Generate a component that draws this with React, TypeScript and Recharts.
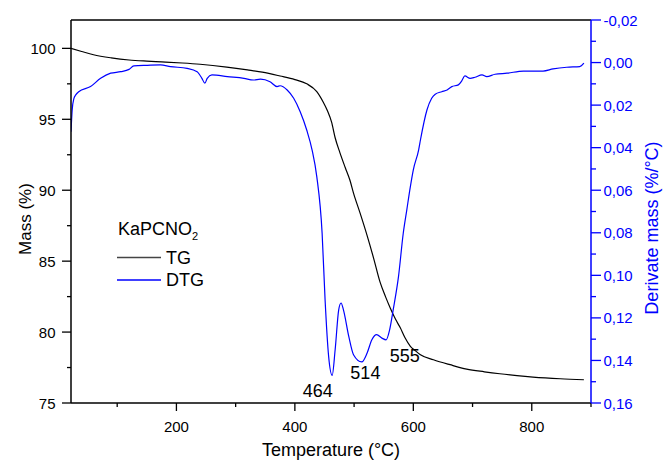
import { ComposedChart, Line, XAxis, YAxis, ReferenceLine, ReferenceDot } from "recharts"

// TG curve (mass %)
const tgTemp = [22, 40, 60, 90, 120, 150, 175, 210, 240, 285, 320, 345, 375, 400, 420, 437, 448, 455, 462, 468, 476, 485, 493, 499, 510, 522, 533, 544, 553, 561, 570, 578, 586, 595, 603, 612, 634, 662, 690, 720, 746, 775, 802, 848, 888]
const tgMass = [100.0, 99.78, 99.55, 99.33, 99.18, 99.1, 99.05, 98.97, 98.88, 98.68, 98.48, 98.32, 98.05, 97.8, 97.5, 96.95, 96.2, 95.6, 94.8, 93.7, 92.65, 91.6, 90.7, 89.8, 88.4, 86.8, 85.2, 83.5, 82.5, 81.7, 80.9, 80.3, 79.6, 79.0, 78.7, 78.4, 78.05, 77.7, 77.39, 77.2, 77.06, 76.93, 76.83, 76.71, 76.64]

// DTG curve (%/°C)
const dtgTemp = [22, 24, 27, 30, 35, 55, 72, 89, 106, 120, 128, 151, 173, 190, 218, 235, 243, 248, 252, 260, 286, 314, 330, 342, 358, 370, 375, 387, 398, 409, 420, 429, 437, 446, 451, 457, 463, 468, 474, 478, 482, 491, 499, 513, 522, 530, 538, 547, 554, 560, 566, 575, 583, 589, 595, 600, 609, 612, 623, 631, 637, 648, 657, 665, 676, 682, 687, 696, 704, 716, 724, 738, 758, 786, 819, 836, 859, 881, 888]
const dtgRate = [0.0325, 0.0223, 0.0168, 0.0152, 0.0137, 0.0113, 0.0074, 0.005, 0.0043, 0.0032, 0.0016, 0.0013, 0.0011, 0.0019, 0.0027, 0.0043, 0.0074, 0.0097, 0.0074, 0.0058, 0.0066, 0.0074, 0.0082, 0.0078, 0.009, 0.0113, 0.0109, 0.0129, 0.0168, 0.0231, 0.0317, 0.041, 0.0536, 0.0802, 0.1115, 0.1381, 0.147, 0.135, 0.1162, 0.113, 0.1162, 0.1287, 0.1373, 0.1407, 0.1365, 0.1303, 0.1279, 0.1295, 0.1303, 0.1256, 0.1162, 0.1005, 0.0802, 0.0692, 0.0583, 0.0504, 0.041, 0.0364, 0.0223, 0.0168, 0.0149, 0.0137, 0.0129, 0.0113, 0.0105, 0.0085, 0.0063, 0.0074, 0.0069, 0.0058, 0.0066, 0.0055, 0.005, 0.004, 0.004, 0.003, 0.0022, 0.0019, 0.0003]

const peakTemps = [464, 514, 555]
const peakRates = [0.147, 0.1407, 0.1303]

const tempTicks = [100, 200, 300, 400, 500, 600, 700, 800, 900]
const massTicks = [75, 77.5, 80, 82.5, 85, 87.5, 90, 92.5, 95, 97.5, 100]
const rateTicks = [-0.02, -0.01, 0, 0.01, 0.02, 0.03, 0.04, 0.05, 0.06, 0.07, 0.08, 0.09, 0.1, 0.11, 0.12, 0.13, 0.14, 0.15, 0.16]

const tgData = tgTemp.map((t, i) => ({ t, mass: tgMass[i] }))
const dtgData = dtgTemp.map((t, i) => ({ t, rate: dtgRate[i] }))

const FONT = "'Liberation Sans', Arial, sans-serif"
const BLUE = "#0000ff"
// label offsets for the peak annotations (px)
const peakLabelShift = [[-15, 16], [3, 11], [18, 16]]

const XTick = ({ x, y, payload }: any) => {
  const major = payload.value % 200 === 0
  return (
    <g>
      <line x1={x} x2={x} y1={y} y2={y + (major ? 8 : 4)} stroke="#000" strokeWidth={1.3} />
      {major && (
        <text x={x} y={y + 23} textAnchor="middle" dominantBaseline="central" fontSize={15} fontFamily={FONT} fill="#000">
          {payload.value}
        </text>
      )}
    </g>
  )
}

const MassTick = ({ x, y, payload }: any) => {
  const major = payload.value % 5 === 0
  return (
    <g>
      <line x1={x - (major ? 9 : 4)} x2={x} y1={y} y2={y} stroke="#000" strokeWidth={1.3} />
      {major && (
        <text x={x - 15.5} y={y} textAnchor="end" dominantBaseline="central" fontSize={15} fontFamily={FONT} fill="#000">
          {payload.value}
        </text>
      )}
    </g>
  )
}

const RateTick = ({ x, y, payload }: any) => {
  const major = Math.round(payload.value * 100) % 2 === 0
  return (
    <g>
      <line x1={x} x2={x + (major ? 10 : 5)} y1={y} y2={y} stroke={BLUE} strokeWidth={1.3} />
      {major && (
        <text x={x + 12.5} y={y} textAnchor="start" dominantBaseline="central" fontSize={15} fontFamily={FONT} fill={BLUE}>
          {payload.value.toFixed(2).replace(".", ",")}
        </text>
      )}
    </g>
  )
}

export default function App() {
  return (
    <div style={{ position: "absolute", left: 0, top: 0, width: 664, height: 461, overflow: "hidden", fontFamily: FONT }}>
      <ComposedChart width={664} height={461} margin={{ top: 20, right: 0, bottom: 0, left: 0 }}>
        <XAxis
          dataKey="t"
          type="number"
          domain={[22, 900]}
          ticks={tempTicks}
          interval={0}
          height={58}
          tickSize={0}
          tickMargin={0}
          tickLine={false}
          tick={<XTick />}
          axisLine={{ stroke: "#000", strokeWidth: 1.5 }}
          allowDataOverflow
        />
        <YAxis
          yAxisId="mass"
          type="number"
          domain={[75, 102]}
          ticks={massTicks}
          interval={0}
          width={71}
          tickSize={0}
          tickMargin={0}
          tickLine={false}
          tick={<MassTick />}
          axisLine={{ stroke: "#000", strokeWidth: 1.5 }}
          allowDataOverflow
        />
        <YAxis
          yAxisId="rate"
          orientation="right"
          type="number"
          domain={[-0.02, 0.16]}
          reversed
          ticks={rateTicks}
          interval={0}
          width={73}
          tickSize={0}
          tickMargin={0}
          tickLine={false}
          tick={<RateTick />}
          axisLine={{ stroke: BLUE, strokeWidth: 1.5 }}
          allowDataOverflow
        />
        <ReferenceLine yAxisId="mass" y={102} stroke="#000" strokeWidth={1.5} />
        <Line data={tgData} yAxisId="mass" dataKey="mass" type="monotone" stroke="#000" strokeWidth={1.2} dot={false} isAnimationActive={false} />
        <Line data={dtgData} yAxisId="rate" dataKey="rate" type="monotone" stroke={BLUE} strokeWidth={1.2} dot={false} isAnimationActive={false} />
        {peakTemps.map((t, i) => (
          <ReferenceDot
            key={t}
            x={t}
            y={peakRates[i]}
            yAxisId="rate"
            r={0}
            shape={(p: any) => (
              <text
                x={p.cx + peakLabelShift[i][0]}
                y={p.cy + peakLabelShift[i][1]}
                textAnchor="middle"
                dominantBaseline="central"
                fontSize={18}
                fontFamily={FONT}
                fill="#000"
              >
                {t}
              </text>
            )}
          />
        ))}
      </ComposedChart>
      <svg width={664} height={461} style={{ position: "absolute", left: 0, top: 0, pointerEvents: "none" }}>
        <text x={25} y={219} transform="rotate(-90 25 219)" textAnchor="middle" dominantBaseline="central" fontSize={17} fontFamily={FONT} fill="#000">
          Mass (%)
        </text>
        <text x={652} y={228} transform="rotate(-90 652 228)" textAnchor="middle" dominantBaseline="central" fontSize={18} fontFamily={FONT} fill={BLUE}>
          Derivate mass (%/°C)
        </text>
        <text x={331} y={456} textAnchor="middle" fontSize={18} fontFamily={FONT} fill="#000">
          Temperature (°C)
        </text>
        <text x={118} y={235} fontSize={18} fontFamily={FONT} fill="#000">
          KaPCNO<tspan fontSize={11} dy={5}>2</tspan>
        </text>
        <line x1={117} x2={161} y1={257.5} y2={257.5} stroke="#444" strokeWidth={1.3} />
        <text x={166} y={257.5} dominantBaseline="central" fontSize={18} fontFamily={FONT} fill="#000">
          TG
        </text>
        <line x1={117} x2={161} y1={280} y2={280} stroke={BLUE} strokeWidth={1.3} />
        <text x={166} y={280} dominantBaseline="central" fontSize={18} fontFamily={FONT} fill="#000">
          DTG
        </text>
      </svg>
    </div>
  )
}
